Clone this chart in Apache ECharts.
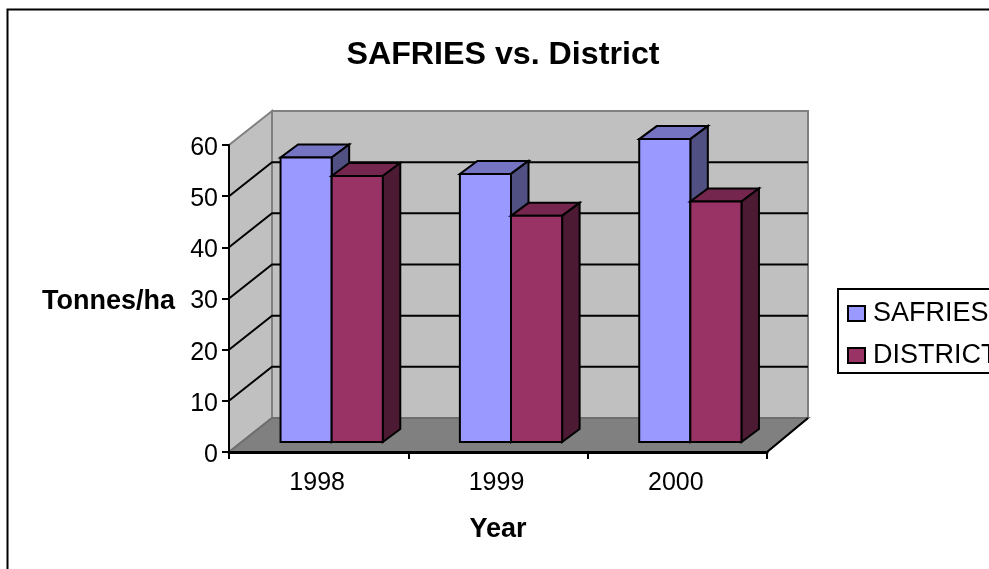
<!DOCTYPE html>
<html>
<head>
<meta charset="utf-8">
<style>
html, body { margin: 0; padding: 0; background: #fff; overflow: hidden; }
#main { width: 989px; height: 569px; }
</style>
<script src="https://cdn.jsdelivr.net/npm/echarts@6/dist/echarts.min.js"></script>
</head>
<body>
<div id="main"></div>
<script>
var years = ['1998', '1999', '2000'];
var safries = [55.6, 52.4, 59.2];
var district = [52, 44.2, 47];
var yTicks = [0, 10, 20, 30, 40, 50, 60];

var FONT = '"Liberation Sans", Arial, sans-serif';
// 3d look: how far the back wall sits from the front plane
var WALL_DX = 43, WALL_DX_RIGHT = 41, WALL_DY = -34;
var BAR_DX = 13, BAR_DY = -10;    // bars stand a little behind the front edge
var BAR_DEPTH_X = 17.5, BAR_DEPTH_Y = -13;

function poly(points, fill, stroke, width) {
    return {
        type: 'polygon',
        shape: { points: points },
        style: { fill: fill, stroke: stroke, lineWidth: width, lineJoin: 'miter' }
    };
}

function line(points, stroke, width) {
    return {
        type: 'polyline',
        shape: { points: points },
        style: { fill: null, stroke: stroke, lineWidth: width }
    };
}

// back wall, side wall, floor and the gridlines running over them
function renderWalls(params, api) {
    var sys = params.coordSys;
    var x0 = sys.x, x1 = sys.x + sys.width;
    var backLeft = x0 + WALL_DX, backRight = x1 + WALL_DX_RIGHT;
    var yBottom = api.coord([0, 0])[1];
    var yTop = api.coord([0, yTicks[yTicks.length - 1]])[1];
    var children = [
        poly([[backLeft, yTop + WALL_DY], [backRight, yTop + WALL_DY], [backRight, yBottom + WALL_DY], [backLeft, yBottom + WALL_DY]], '#c0c0c0', '#808080', 2),
        poly([[x0, yTop], [backLeft, yTop + WALL_DY], [backLeft, yBottom + WALL_DY], [x0, yBottom]], '#c0c0c0', '#808080', 2),
        poly([[x0, yBottom], [backLeft, yBottom + WALL_DY], [backRight, yBottom + WALL_DY], [x1, yBottom]], '#808080', '#6e6e6e', 2)
    ];
    yTicks.slice(1, -1).forEach(function (t) {
        var y = api.coord([0, t])[1];
        children.push(line([[x0, y], [backLeft, y + WALL_DY], [backRight, y + WALL_DY]], '#000', 2));
    });
    children.push(line([[x1, yBottom], [backRight, yBottom + WALL_DY]], '#000', 2));
    return { type: 'group', children: children };
}

function makeBarRenderer(slot, front, top, side) {
    return function (params, api) {
        var band = api.size([1, 0])[0];
        var w = band * 0.285;
        var centre = api.coord([api.value(0), 0]);
        var left = centre[0] + BAR_DX + slot * w;
        var right = left + w;
        var bottom = centre[1] + BAR_DY;
        var upper = api.coord([api.value(0), api.value(1)])[1] + BAR_DY;
        var dx = BAR_DEPTH_X, dy = BAR_DEPTH_Y;
        return {
            type: 'group',
            children: [
                poly([[left, upper], [right, upper], [right + dx, upper + dy], [left + dx, upper + dy]], top, '#000', 2),
                poly([[right, upper], [right + dx, upper + dy], [right + dx, bottom + dy], [right, bottom]], side, '#000', 2),
                poly([[left, upper], [right, upper], [right, bottom], [left, bottom]], front, '#000', 2)
            ]
        };
    };
}

function pairs(values) {
    return values.map(function (v, i) { return [i, v]; });
}

var myChart = echarts.init(document.getElementById('main'), null, { renderer: 'canvas' });
var option = {
    animation: false,
    backgroundColor: '#fff',
    textStyle: { fontFamily: FONT },
    title: {
        text: 'SAFRIES vs. District',
        left: 498,
        top: 34,
        textAlign: 'center',
        textStyle: { fontFamily: FONT, fontSize: 32.2, fontWeight: 'bold', color: '#000' }
    },
    grid: { left: 229, top: 145, width: 538, height: 307 },
    legend: {
        orient: 'vertical',
        left: 838,
        top: 289,
        padding: [11, 9, 4, 9],
        itemWidth: 17,
        itemHeight: 15,
        itemGap: 15,
        icon: 'rect',
        borderColor: '#000',
        borderWidth: 2,
        textStyle: { fontFamily: FONT, fontSize: 27, color: '#000', padding: [0, 0, 0, 3] },
        data: ['SAFRIES', 'DISTRICT']
    },
    graphic: [{
        type: 'rect',
        left: 5,
        top: 7,
        shape: { width: 1100, height: 700 },
        style: { fill: null, stroke: '#000', lineWidth: 2 },
        z: 0
    }],
    xAxis: {
        type: 'category',
        data: years,
        name: 'Year',
        nameLocation: 'middle',
        nameGap: 64,
        nameTextStyle: { fontFamily: FONT, fontSize: 27, fontWeight: 'bold', color: '#000' },
        axisLine: { show: true, lineStyle: { color: '#000', width: 3 } },
        axisTick: { show: true, length: 7, lineStyle: { color: '#000', width: 2 } },
        axisLabel: { fontFamily: FONT, fontSize: 25, color: '#000', margin: 17, padding: [2, 3, 0, 0] },
        splitLine: { show: false },
        z: 5
    },
    yAxis: {
        type: 'value',
        min: 0,
        max: 60,
        interval: 10,
        name: 'Tonnes/ha',
        nameLocation: 'middle',
        nameRotate: 0,
        nameGap: 54,
        nameTextStyle: { fontFamily: FONT, fontSize: 27, fontWeight: 'bold', color: '#000', align: 'right', verticalAlign: 'top', lineHeight: 6 },
        axisLine: { show: true, lineStyle: { color: '#000', width: 2 } },
        axisTick: { show: true, length: 7, lineStyle: { color: '#000', width: 2 } },
        axisLabel: { fontFamily: FONT, fontSize: 25, color: '#000', margin: 11, verticalAlign: 'top', lineHeight: 6 },
        splitLine: { show: false },
        z: 5
    },
    series: [
        {
            type: 'custom',
            name: 'walls',
            silent: true,
            z: 1,
            renderItem: renderWalls,
            data: [[0, 0]]
        },
        {
            type: 'custom',
            name: 'SAFRIES',
            z: 2,
            itemStyle: { color: '#9999ff', borderColor: '#000', borderWidth: 2 },
            renderItem: makeBarRenderer(-1, '#9999ff', '#7474c2', '#505082'),
            data: pairs(safries)
        },
        {
            type: 'custom',
            name: 'DISTRICT',
            z: 3,
            itemStyle: { color: '#993366', borderColor: '#000', borderWidth: 2 },
            renderItem: makeBarRenderer(0, '#993366', '#74264e', '#4d1a33'),
            data: pairs(district)
        }
    ]
};
myChart.setOption(option);
</script>
</body>
</html>
